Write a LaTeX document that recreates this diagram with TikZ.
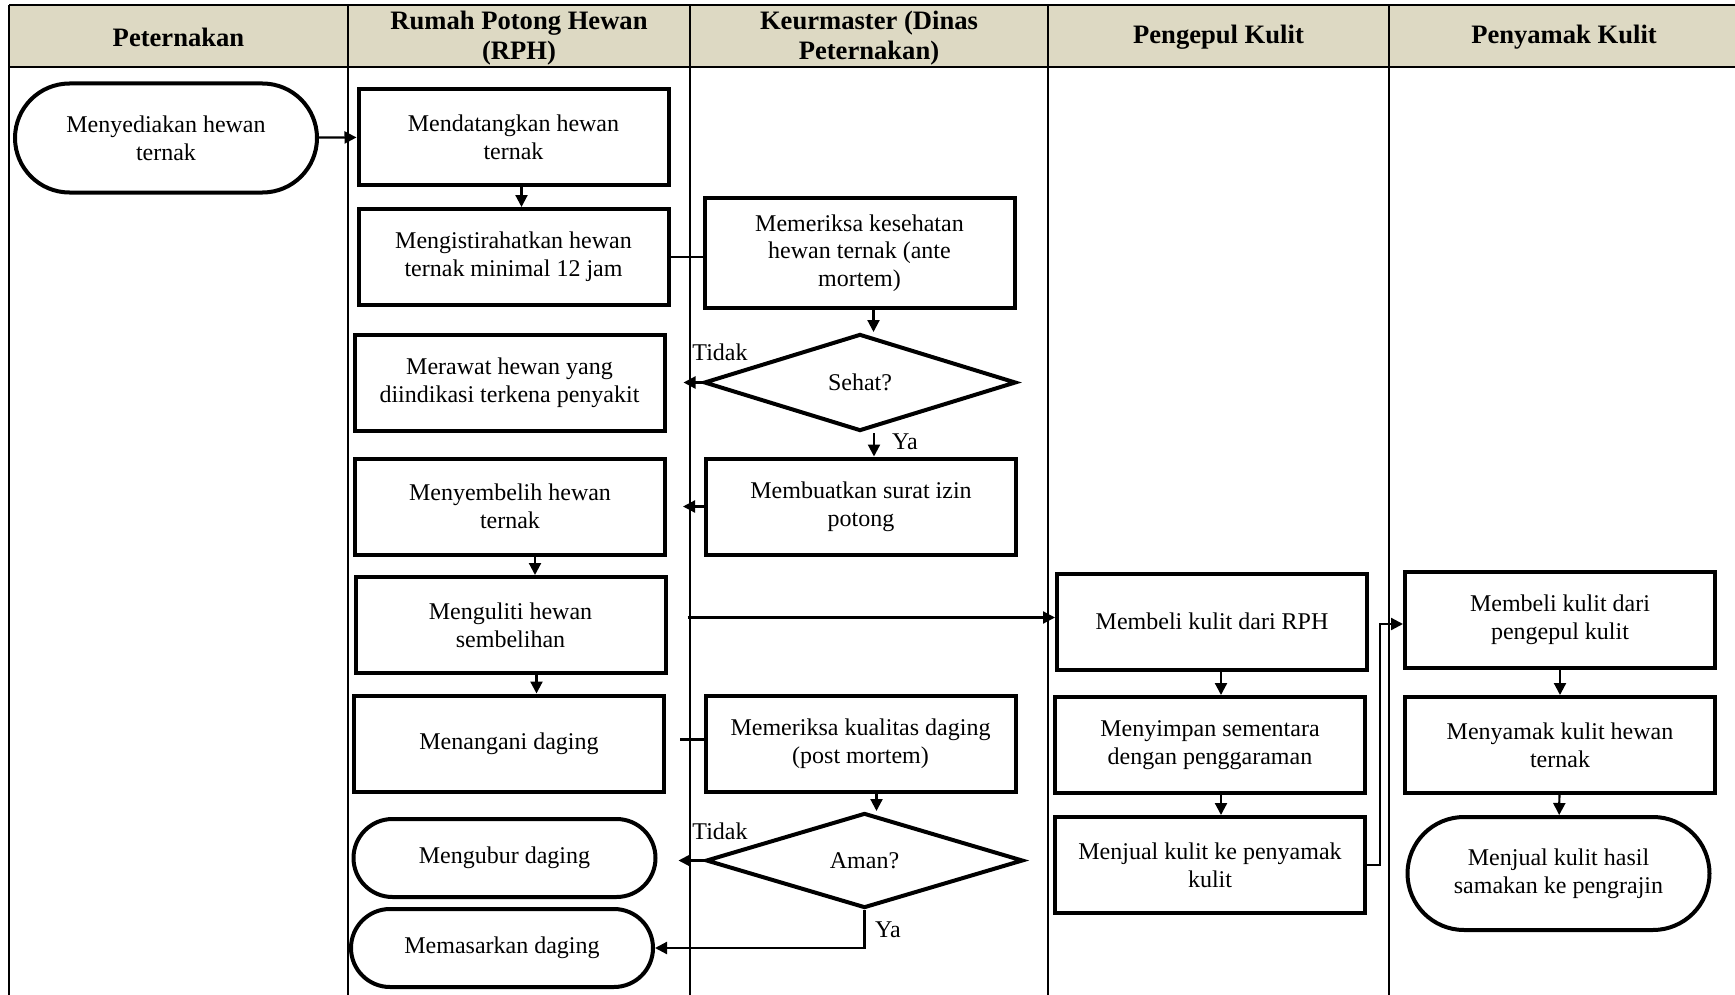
\documentclass[tikz,border=0pt]{standalone}
\usepackage{fontspec}
\setmainfont{Liberation Serif}
\usetikzlibrary{arrows.meta,shapes.geometric,shapes.misc}

\begin{document}
\begin{tikzpicture}[x=0.5pt, y=-0.5pt,
    lane/.style={line width=0.9pt},
    head/.style={align=center, font=\fontsize{13.3}{15}\selectfont\bfseries},
    proc/.style={draw, line width=2pt, minimum width=155pt, minimum height=48pt,
      inner sep=2pt, align=center, font=\fontsize{12}{13.8}\selectfont},
    term/.style={proc, rounded rectangle},
    dec/.style={draw, diamond, line width=2pt, inner sep=0pt, aspect=3,
      font=\fontsize{12}{13.8}\selectfont},
    arr/.style={line width=1.1pt, -{Triangle[length=6pt,width=6pt]}},
    lbl/.style={font=\fontsize{12}{13.8}\selectfont}]
                \useasboundingbox (0,0) rectangle (1735,995);
                % lajur
                \fill[fill={rgb,255:red,221;green,217;blue,195}] (9,5) rectangle (1735,67);
                \draw[line width=1.3pt] (9,5) -- (1735,5);
                \draw[line width=1.3pt] (9,67) -- (1735,67);
                \foreach \x in {9,348,690,1048,1389}
                    \draw[lane] (\x,5) -- (\x,995);
                \node[head] (hPet) at (178.5,37.5) {Peternakan};
                \node[head] (hRph) at (519,38) {Rumah Potong Hewan\\(RPH)};
                \node[head] (hKeur) at (869,38) {Keurmaster (Dinas\\Peternakan)};
                \node[head] (hPeng) at (1218.5,37.5) {Pengepul Kulit};
                \node[head] (hPeny) at (1564,37.5) {Penyamak Kulit};
                % peternakan dan RPH
                \node[term, minimum height=54.5pt] (sedia) at (166,138) {Menyediakan hewan\\ternak};
                \node[proc] (datang) at (513.5,137) {Mendatangkan hewan\\ternak};
                \node[proc] (istirahat) at (513.5,257) {Mengistirahatkan hewan\\ternak minimal 12 jam};
                \node[proc] (rawat) at (509.5,382.5) {Merawat hewan yang\\diindikasi terkena penyakit};
                \node[proc] (sembelih) at (510,506.5) {Menyembelih hewan\\ternak};
                \node[proc] (kuliti) at (510.5,625) {Menguliti hewan\\sembelihan};
                \node[proc] (tangani) at (509,743.5) {Menangani daging};
                \node[term, minimum height=39pt] (kubur) at (504.5,858) {Mengubur daging};
                \node[term, minimum height=39pt] (pasar) at (502,948) {Memasarkan daging};
                % keurmaster
                \node[proc, minimum height=55pt] (antem) at (859.5,253) {Memeriksa kesehatan\\hewan ternak (ante\\mortem)};
                \node[dec, minimum width=156pt, minimum height=48.5pt] (sehat) at (860,382.5) {Sehat?};
                \node[proc] (surat) at (861,506.5) {Membuatkan surat izin\\potong};
                \node[proc] (postm) at (860.5,743.5) {Memeriksa kualitas daging\\(post mortem)};
                \node[dec, minimum width=158.5pt, minimum height=47.5pt] (aman) at (864.5,860.5) {Aman?};
                % pengepul dan penyamak
                \node[proc] (beliRph) at (1212,621.5) {Membeli kulit dari RPH};
                \node[proc] (simpan) at (1210,745) {Menyimpan sementara\\dengan penggaraman};
                \node[proc] (jualKulit) at (1210,865) {Menjual kulit ke penyamak\\kulit};
                \node[proc] (beliPeng) at (1560,620) {Membeli kulit dari\\pengepul kulit};
                \node[proc] (samak) at (1560,745) {Menyamak kulit hewan\\ternak};
                \node[term, minimum height=56.5pt] (jualHasil) at (1558.5,873.5) {Menjual kulit hasil\\samakan ke pengrajin};
                % alur
                \draw[arr] (sedia) -- (datang);
                \draw[arr] ([xshift=4pt]datang.south) -- ([xshift=4pt]istirahat.north);
                \draw[line width=1.1pt] (istirahat.east) -- (istirahat.east -| antem.west);
                \draw[arr] ([xshift=7pt]antem.south) -- ([xshift=7pt]antem.south |- sehat.north);
                \draw[arr, shorten >=8.5pt] (sehat.west) -- (rawat.east);
                \node[lbl] (tdk1) at (720,352) {Tidak};
                \draw[arr] ([xshift=7pt]sehat.south) -- ([xshift=7pt]sehat.south |- surat.north);
                \node[lbl] (ya1) at (905,442) {Ya};
                \draw[arr, shorten >=8pt] (surat.west) -- (sembelih.east);
                \draw[arr] ([xshift=12.5pt]sembelih.south) -- ([xshift=12.5pt]sembelih.south |- kuliti.north);
                \draw[arr] ([xshift=13pt]kuliti.south) -- ([xshift=13pt]kuliti.south |- tangani.north);
                \draw[arr, shorten <=10pt] ([yshift=2pt]kuliti.east |- beliRph.west) -- ([yshift=2pt]beliRph.west);
                \draw[line width=1.1pt, shorten >=7pt] ([yshift=2pt]postm.west) -- ([yshift=2pt]tangani.east);
                \draw[arr] ([xshift=8pt]postm.south) -- ([xshift=8pt]postm.south |- aman.north);
                \draw[arr, shorten >=10.5pt] (aman.west) -- (aman.west -| kubur.east);
                \node[lbl] (tdk2) at (720,831) {Tidak};
                \draw[arr] (aman.south) |- (pasar.east);
                \node[lbl] (ya2) at (888,930) {Ya};
                \draw[arr] ([xshift=4.5pt]beliRph.south) -- ([xshift=4.5pt]beliRph.south |- simpan.north);
                \draw[arr] ([xshift=5.5pt]simpan.south) -- ([xshift=5.5pt]simpan.south |- jualKulit.north);
                \draw[arr] (jualKulit.east) -- ++(13,0) |- ([yshift=-2pt]beliPeng.west);
                \draw[arr] (beliPeng) -- (samak);
                \draw[arr] (samak) -- (jualHasil);
\end{tikzpicture}
\end{document}
